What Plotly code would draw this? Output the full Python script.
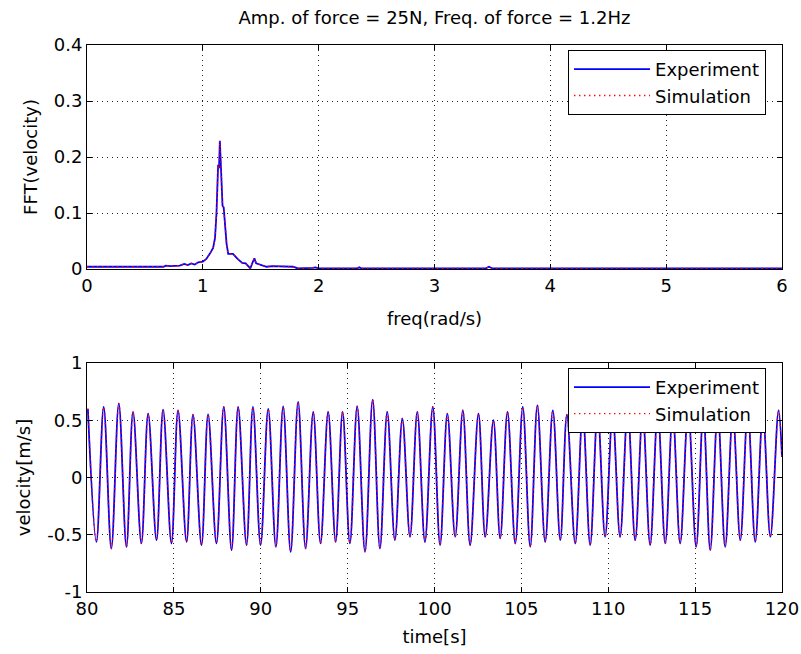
import plotly.graph_objects as go

# ---------------- data ----------------
title_text = "Amp. of force = 25N, Freq. of force = 1.2Hz"
series_names = ["Experiment", "Simulation"]

fft_freq = [0, 0.3, 0.6, 0.66, 0.68, 0.72, 0.8, 0.84, 0.87, 0.9, 0.93, 0.96, 1.0, 1.03, 1.06,
            1.089, 1.105, 1.118, 1.132, 1.14, 1.147, 1.16, 1.17, 1.18, 1.199, 1.205, 1.219,
            1.26, 1.3, 1.34, 1.37, 1.39, 1.41, 1.43, 1.445, 1.46, 1.5, 1.55, 1.6, 1.7, 1.78,
            1.82, 1.9, 1.95, 1.97, 2.0, 2.2, 2.33, 2.35, 2.37, 2.6, 3.0, 3.44, 3.47, 3.5,
            4.0, 5.0, 6.0]
fft_exp = [0.004, 0.004, 0.004, 0.004, 0.006, 0.005, 0.006, 0.009, 0.007, 0.01, 0.008, 0.012,
           0.013, 0.018, 0.027, 0.0375, 0.055, 0.1, 0.186, 0.18, 0.229, 0.175, 0.113, 0.11,
           0.06, 0.045, 0.027, 0.027, 0.018, 0.011, 0.01, 0.006, 0.001, 0.012, 0.019, 0.01,
           0.007, 0.004, 0.005, 0.004, 0.004, 0.001, 0.001, 0.002, 0.003, 0.001, 0.001, 0.001,
           0.003, 0.001, 0.001, 0.001, 0.001, 0.004, 0.001, 0.001, 0.001, 0.001]
fft_sim = list(fft_exp)

peak_t = [80.05, 80.96, 81.83, 82.65, 83.52, 84.38, 85.24, 86.10, 86.97, 87.87, 88.70, 89.55,
          90.43, 91.29, 92.15, 93.02, 93.88, 94.71, 95.55, 96.44, 97.28, 98.15, 99.01,
          99.90, 100.74, 101.63, 102.53, 103.39, 104.20, 105.08, 105.92, 106.81, 107.62,
          108.53, 109.39, 110.25, 111.12, 111.98, 112.85, 113.71, 114.60, 115.47, 116.30,
          117.17, 118.03, 118.90, 119.80]
peak_v = [0.60, 0.616, 0.646, 0.573, 0.558, 0.593, 0.587, 0.55, 0.552, 0.616, 0.616, 0.616,
          0.60, 0.622, 0.66, 0.573, 0.573, 0.573, 0.622, 0.68, 0.573, 0.515, 0.573,
          0.616, 0.558, 0.587, 0.558, 0.50, 0.573, 0.616, 0.63, 0.587, 0.55,
          0.57, 0.58, 0.56, 0.6, 0.57, 0.58, 0.56, 0.59, 0.57, 0.58,
          0.56, 0.59, 0.57, 0.587]
trough_t = [80.54, 81.40, 82.27, 83.13, 84.00, 84.86, 85.73, 86.59, 87.45, 88.32, 89.18,
            89.99, 90.87, 91.72, 92.58, 93.44, 94.31, 95.13, 96.00, 96.86, 97.72, 98.59, 99.45,
            100.32, 101.19, 102.05, 102.92, 103.78, 104.65, 105.51, 106.37, 107.24, 108.10, 108.96,
            109.82, 110.68, 111.55, 112.41, 113.28, 114.14, 115.06, 115.87, 116.73, 117.60,
            118.46, 119.33]
trough_v = [-0.562, -0.62, -0.605, -0.576, -0.547, -0.576, -0.562, -0.59, -0.576, -0.634, -0.59,
            -0.59, -0.605, -0.649, -0.62, -0.576, -0.562, -0.576, -0.649, -0.62, -0.547, -0.518, -0.562,
            -0.59, -0.518, -0.59, -0.518, -0.532, -0.576, -0.605, -0.562, -0.547, -0.576, -0.59,
            -0.518, -0.518, -0.547, -0.59, -0.576, -0.576, -0.605, -0.634, -0.605, -0.547,
            -0.562, -0.518]
end_t = [120.0]
end_v = [0.18]

top_y_ticks = [0, 0.1, 0.2, 0.3, 0.4]
top_y_labels = ["0", "0.1", "0.2", "0.3", "0.4"]
top_x_ticks = [0, 1, 2, 3, 4, 5, 6]
bot_y_ticks = [-1, -0.5, 0, 0.5, 1]
bot_y_labels = ["-1", "-0.5", "0", "0.5", "1"]
bot_x_ticks = [80, 85, 90, 95, 100, 105, 110, 115, 120]

# interleave extremes into one time series
pairs = sorted(list(zip(peak_t, peak_v)) + list(zip(trough_t, trough_v)) + list(zip(end_t, end_v)))
vel_t = [p[0] for p in pairs]
vel_exp = [p[1] for p in pairs]
vel_sim = list(vel_exp)

# ---------------- figure ----------------
FONT = "DejaVu Sans, sans-serif"
fs = 18
DOT = "1px,4px"

fig = go.Figure()
fig.add_trace(go.Scatter(x=fft_freq, y=fft_exp, mode="lines", name=series_names[0],
                         line=dict(color="#0000ff", width=1.8), xaxis="x", yaxis="y", legend="legend"))
fig.add_trace(go.Scatter(x=fft_freq, y=fft_sim, mode="lines", name=series_names[1],
                         line=dict(color="#ff0000", width=1.4, dash="1.4px,3.6px"), xaxis="x", yaxis="y", legend="legend"))
fig.add_trace(go.Scatter(x=vel_t, y=vel_exp, mode="lines", name=series_names[0],
                         line=dict(color="#0000ff", width=1.8, shape="spline"), xaxis="x2", yaxis="y2", legend="legend2"))
fig.add_trace(go.Scatter(x=vel_t, y=vel_sim, mode="lines", name=series_names[1],
                         line=dict(color="#ff0000", width=1.4, dash="1.4px,3.6px", shape="spline"), xaxis="x2", yaxis="y2", legend="legend2"))

axis_common = dict(showline=True, linecolor="black", linewidth=1, mirror="ticks",
                   ticks="inside", ticklen=5, tickcolor="black", showgrid=True,
                   gridcolor="#222222", gridwidth=1, griddash=DOT, zeroline=False,
                   automargin=False,
                   tickfont=dict(family=FONT, size=fs, color="black"))

legend_common = dict(bgcolor="white", bordercolor="black", borderwidth=1,
                     font=dict(family=FONT, size=fs, color="black"),
                     xanchor="right", yanchor="top", x=0.977, itemwidth=76,
                     tracegroupgap=0)

fig.update_layout(
    width=801, height=654, autosize=False,
    margin=dict(l=87, r=19, t=45, b=62, autoexpand=False),
    paper_bgcolor="white", plot_bgcolor="white",
    font=dict(family=FONT, size=fs, color="black"),
    title=dict(text=title_text, x=0.5, xref="paper", y=1 - 18 / 654, yref="container",
               yanchor="middle", xanchor="center", font=dict(family=FONT, size=fs, color="black")),
    xaxis=dict(axis_common, domain=[0, 1], range=[0, 6], tickvals=top_x_ticks, anchor="y",
               title=dict(text="freq(rad/s)", standoff=17, font=dict(family=FONT, size=fs))),
    yaxis=dict(axis_common, domain=[0.5905, 1], range=[0, 0.4], tickvals=top_y_ticks,
               ticktext=top_y_labels, anchor="x",
               title=dict(text="FFT(velocity)", standoff=11, font=dict(family=FONT, size=fs))),
    xaxis2=dict(axis_common, domain=[0, 1], range=[80, 120], tickvals=bot_x_ticks, anchor="y2",
                title=dict(text="time[s]", standoff=12, font=dict(family=FONT, size=fs))),
    yaxis2=dict(axis_common, domain=[0, 0.4186], range=[-1, 1], tickvals=bot_y_ticks,
                ticktext=bot_y_labels, anchor="x2",
                title=dict(text="velocity[m/s]", standoff=11, font=dict(family=FONT, size=fs))),
    legend=dict(legend_common, y=0.991),
    legend2=dict(legend_common, y=0.4095),
)

fig.write_html("out.html", config={"displayModeBar": False},
               post_script="document.body.style.margin='0px';document.body.style.overflow='hidden';")
